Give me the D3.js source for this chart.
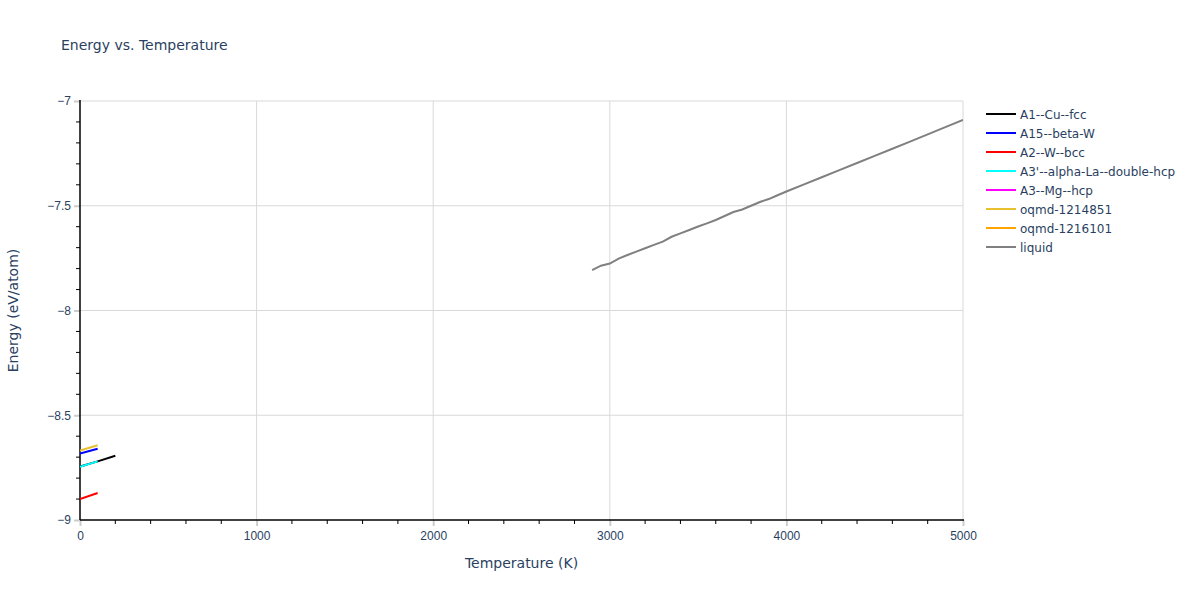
<!DOCTYPE html>
<html>
<head>
<meta charset="utf-8">
<script src="https://cdn.jsdelivr.net/npm/d3@7"></script>
<style>
  body { margin: 0; background: #fff; }
  svg { font-family: "DejaVu Sans", Verdana, sans-serif; }
</style>
</head>
<body>
<svg id="chart" width="1200" height="600"></svg>
<script>
// ---- data ----
const seriesNames = ["A1--Cu--fcc", "A15--beta-W", "A2--W--bcc", "A3'--alpha-La--double-hcp", "A3--Mg--hcp", "oqmd-1214851", "oqmd-1216101", "liquid"];
const seriesColors = ["#000000", "#0000ff", "#ff0000", "#00ffff", "#ff00ff", "#e8c030", "#ffa500", "#808080"];

const cuFccT = [0, 100, 200];
const cuFccE = [-8.745, -8.720, -8.693];
const betaWT = [0, 100];
const betaWE = [-8.683, -8.660];
const wBccT = [0, 100];
const wBccE = [-8.900, -8.871];
const laHcpT = [0, 100];
const laHcpE = [-8.746, -8.720];
const mgHcpT = [];
const mgHcpE = [];
const oqmd1214851T = [0, 100];
const oqmd1214851E = [-8.668, -8.643];
const oqmd1216101T = [];
const oqmd1216101E = [];
const liquidT = [2900, 2950, 3000, 3050, 3100, 3150, 3200, 3250, 3300, 3350, 3400, 3450, 3500, 3550, 3600, 3650, 3700, 3750, 3800, 3850, 3900, 3950, 4000, 4100, 4200, 4300, 4400, 4500, 4600, 4700, 4800, 4900, 5000];
const liquidE = [-7.807, -7.786, -7.776, -7.752, -7.735, -7.719, -7.703, -7.687, -7.671, -7.648, -7.632, -7.616, -7.599, -7.584, -7.568, -7.549, -7.530, -7.518, -7.500, -7.482, -7.468, -7.450, -7.432, -7.398, -7.364, -7.330, -7.296, -7.262, -7.228, -7.194, -7.159, -7.125, -7.090];

const xTicks = [0, 1000, 2000, 3000, 4000, 5000];
const yTicks = [-9, -8.5, -8, -7.5, -7];
const xMinorTicks = d3.range(0, 5001, 200);
const yMinorTicks = d3.range(-9, -6.99, 0.1);

const titleText = "Energy vs. Temperature";
const xTitle = "Temperature (K)";
const yTitle = "Energy (eV/atom)";

// ---- layout ----
const L = 80, T = 101, R = 963, B = 520;
const svg = d3.select("#chart");
const x = d3.scaleLinear().domain([0, 5000]).range([L, R]);
const y = d3.scaleLinear().domain([-9, -7]).range([B, T]);
const textColor = "#2a3f5f";
const gridColor = "#d9d9d9";

// gridlines
svg.append("g").selectAll("line").data(xTicks.filter(d => d > 0)).join("line")
  .attr("x1", d => x(d)).attr("x2", d => x(d)).attr("y1", T).attr("y2", B)
  .attr("stroke", gridColor).attr("stroke-width", 1);
svg.append("g").selectAll("line").data(yTicks.filter(d => d > -9)).join("line")
  .attr("x1", L).attr("x2", R).attr("y1", d => y(d)).attr("y2", d => y(d))
  .attr("stroke", gridColor).attr("stroke-width", 1);

// axes
const fmtMinus = d => String(d).replace("-", "\u2212");
const xAxis = svg.append("g").attr("transform", `translate(0,${B})`)
  .call(d3.axisBottom(x).tickValues(xTicks).tickFormat(d => d).tickSize(6).tickPadding(5));
xAxis.select(".domain").remove();
xAxis.selectAll(".tick line").attr("stroke", "#cccccc").attr("stroke-width", 2);
xAxis.selectAll("text").attr("fill", textColor).attr("font-size", 12);

const yAxis = svg.append("g").attr("transform", `translate(${L},0)`)
  .call(d3.axisLeft(y).tickValues(yTicks).tickFormat(fmtMinus).tickSize(6).tickPadding(3));
yAxis.select(".domain").remove();
yAxis.selectAll(".tick line").attr("stroke", "#cccccc").attr("stroke-width", 2);
yAxis.selectAll("text").attr("fill", textColor).attr("font-size", 12);

// minor ticks
svg.append("g").selectAll("line").data(xMinorTicks.filter(d => xTicks.indexOf(d) < 0)).join("line")
  .attr("x1", d => x(d)).attr("x2", d => x(d)).attr("y1", B).attr("y2", B + 4)
  .attr("stroke", "#000").attr("stroke-width", 1);
svg.append("g").selectAll("line").data(yMinorTicks.filter(d => yTicks.every(t => Math.abs(t - d) > 1e-6))).join("line")
  .attr("x1", L - 4).attr("x2", L).attr("y1", d => y(d)).attr("y2", d => y(d))
  .attr("stroke", "#000").attr("stroke-width", 1);

// axis lines
svg.append("line").attr("x1", L).attr("x2", R + 1).attr("y1", B).attr("y2", B).attr("stroke", "#000").attr("stroke-width", 1.5);
svg.append("line").attr("x1", L).attr("x2", L).attr("y1", T - 1).attr("y2", B).attr("stroke", "#000").attr("stroke-width", 1.5);

// series
const seriesT = [cuFccT, betaWT, wBccT, laHcpT, mgHcpT, oqmd1214851T, oqmd1216101T, liquidT];
const seriesE = [cuFccE, betaWE, wBccE, laHcpE, mgHcpE, oqmd1214851E, oqmd1216101E, liquidE];
const line = d3.line().x(d => x(d[0])).y(d => y(d[1]));
const plot = svg.append("g");
plot.append("clipPath").attr("id", "clip").append("rect").attr("x", L).attr("y", T).attr("width", R - L).attr("height", B - T);
seriesNames.forEach((name, i) => {
  const pts = seriesT[i].map((t, j) => [t, seriesE[i][j]]);
  if (pts.length < 2) return;
  plot.append("path").datum(pts).attr("d", line)
    .attr("fill", "none").attr("stroke", seriesColors[i]).attr("stroke-width", 2)
    .attr("clip-path", "url(#clip)");
});

// legend
const lg = svg.append("g").attr("transform", "translate(986,114)");
seriesNames.forEach((name, i) => {
  const g = lg.append("g").attr("transform", `translate(0,${i * 19})`);
  g.append("line").attr("x1", 0).attr("x2", 30).attr("y1", 0).attr("y2", 0)
    .attr("stroke", seriesColors[i]).attr("stroke-width", 2);
  g.append("text").attr("x", 34).attr("y", 4.5).attr("font-size", 12).attr("fill", textColor).text(name);
});

// titles
svg.append("text").attr("x", 61).attr("y", 50).attr("font-size", 14).attr("fill", textColor).text(titleText);
svg.append("text").attr("x", (L + R) / 2).attr("y", 568).attr("text-anchor", "middle")
  .attr("font-size", 14).attr("fill", textColor).text(xTitle);
svg.append("text").attr("transform", `translate(18,${(T + B) / 2}) rotate(-90)`).attr("text-anchor", "middle")
  .attr("font-size", 14).attr("fill", textColor).text(yTitle);
</script>
</body>
</html>
